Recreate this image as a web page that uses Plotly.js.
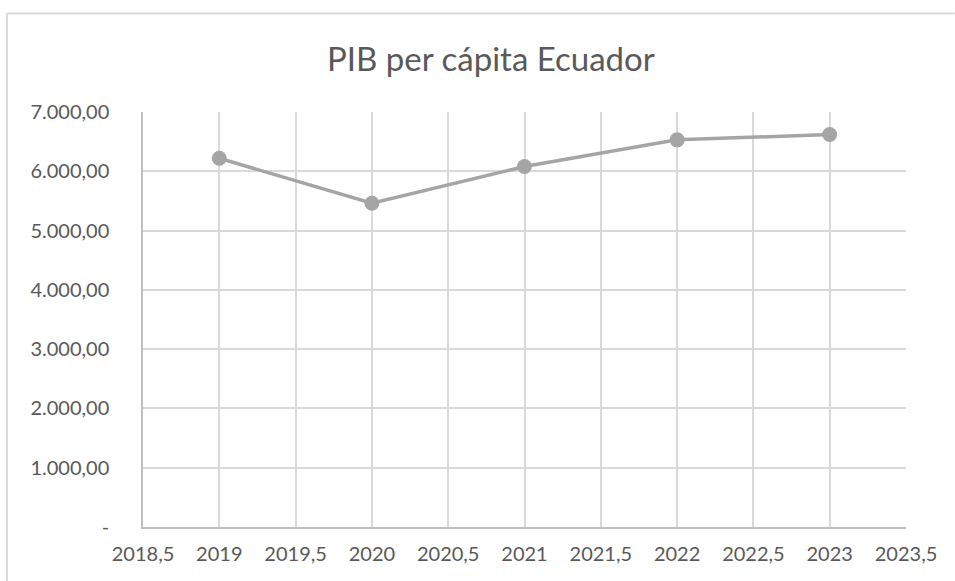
<!DOCTYPE html>
<html>
<head>
<meta charset="utf-8">
<script src="https://cdn.plot.ly/plotly-3.0.1.min.js"></script>
<style>
html,body{margin:0;padding:0;background:#fff;}
#chart{width:955px;height:581px;}
</style>
</head>
<body>
<div id="chart"></div>
<script>
const years = [2019, 2020, 2021, 2022, 2023];
const gdpPerCapita = [6220, 5460, 6080, 6530, 6620];
const yTickVals = [0, 1000, 2000, 3000, 4000, 5000, 6000, 7000];
const yTickText = ["-", "1.000,00", "2.000,00", "3.000,00", "4.000,00", "5.000,00", "6.000,00", "7.000,00"];
const xTickVals = [2018.5, 2019, 2019.5, 2020, 2020.5, 2021, 2021.5, 2022, 2022.5, 2023, 2023.5];
const xTickText = ["2018,5", "2019", "2019,5", "2020", "2020,5", "2021", "2021,5", "2022", "2022,5", "2023", "2023,5"];
const chartTitle = "PIB per cápita Ecuador";

const fontFam = "Lato, 'Open Sans', sans-serif";
const trace = {
  x: years,
  y: gdpPerCapita,
  type: "scatter",
  mode: "lines+markers",
  line: {color: "#a5a5a5", width: 3.5},
  marker: {color: "#a5a5a5", size: 15},
  hoverinfo: "x+y"
};
const layout = {
  width: 955, height: 581,
  paper_bgcolor: "#ffffff", plot_bgcolor: "#ffffff",
  margin: {l: 143, r: 49, t: 112, b: 54},
  showlegend: false,
  title: {text: chartTitle, x: 0.514, xref: "container", xanchor: "center", y: 0.897, yref: "container", yanchor: "middle",
          font: {family: fontFam, size: 33, color: "#595959"}},
  xaxis: {
    range: [2018.5, 2023.5], tickmode: "array", tickvals: xTickVals, ticktext: xTickText,
    showgrid: true, gridcolor: "#d9d9d9", gridwidth: 1.5,
    showline: true, linecolor: "#bfbfbf", linewidth: 1.5, mirror: false,
    zeroline: false, ticks: "", ticklen: 0, ticklabelstandoff: 8, tickfont: {family: fontFam, size: 20, color: "#595959"}
  },
  yaxis: {
    range: [0, 7000], tickmode: "array", tickvals: yTickVals, ticktext: yTickText,
    showgrid: true, gridcolor: "#d9d9d9", gridwidth: 1.5,
    showline: true, linecolor: "#bfbfbf", linewidth: 1.5,
    zeroline: false, ticks: "", ticklen: 0, ticklabelstandoff: 28, tickfont: {family: fontFam, size: 20, color: "#595959"}
  },
  shapes: [
    {type: "line", xref: "paper", yref: "paper",
     x0: -0.1782, x1: -0.1782, y0: -0.13, y1: 1.2373,
     line: {color: "#d9d9d9", width: 2}, layer: "below"},
    {type: "line", xref: "paper", yref: "paper",
     x0: -0.1782, x1: 1.064, y0: 1.2373, y1: 1.2373,
     line: {color: "#d9d9d9", width: 2}, layer: "below"}
  ]
};
Plotly.newPlot("chart", [trace], layout, {displayModeBar: false, responsive: false});
</script>
</body>
</html>
